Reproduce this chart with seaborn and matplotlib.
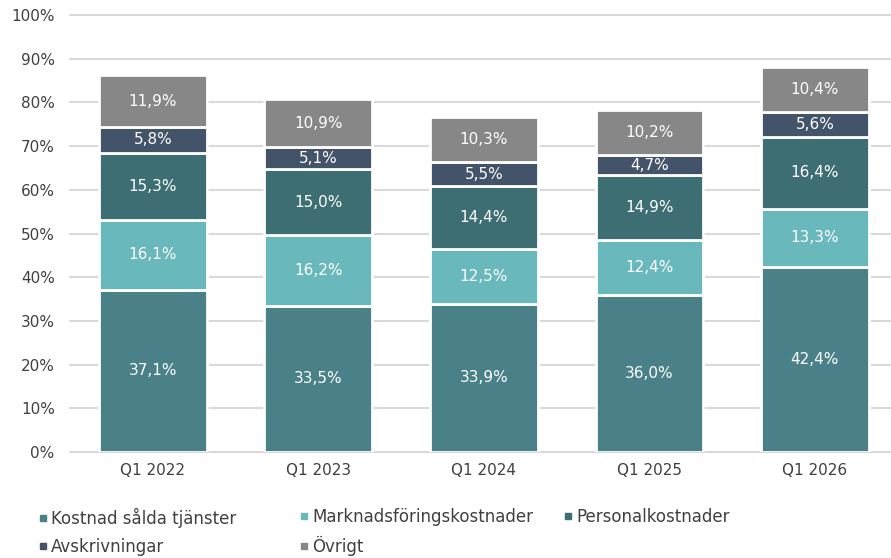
import matplotlib
matplotlib.use("Agg")
import matplotlib.pyplot as plt
from matplotlib.lines import Line2D
import seaborn as sns
import pandas as pd
import numpy as np

quarters = ["Q1 2022", "Q1 2023", "Q1 2024", "Q1 2025", "Q1 2026"]
series_names = ["Kostnad sålda tjänster", "Marknadsföringskostnader", "Personalkostnader",
                "Avskrivningar", "Övrigt"]
kostnad = [37.1, 33.5, 33.9, 36.0, 42.4]
marknad = [16.1, 16.2, 12.5, 12.4, 13.3]
personal = [15.3, 15.0, 14.4, 14.9, 16.4]
avskriv = [5.8, 5.1, 5.5, 4.7, 5.6]
ovrigt = [11.9, 10.9, 10.3, 10.2, 10.4]
yticks = [0, 10, 20, 30, 40, 50, 60, 70, 80, 90, 100]

colors = ["#4A8189", "#69B8BC", "#3D6E73", "#435369", "#878787"]

sns.set_style("white")
plt.rcParams["font.family"] = ["DejaVu Sans"]

df = pd.DataFrame({"quarter": quarters, series_names[0]: kostnad, series_names[1]: marknad,
                   series_names[2]: personal, series_names[3]: avskriv, series_names[4]: ovrigt})

fig = plt.figure(figsize=(8.91, 5.58), dpi=100)
ax = fig.add_axes([70 / 891, 106 / 558, 1 - 70 / 891, (452 - 15) / 558])

bottom = np.zeros(len(quarters))
for name, col in zip(series_names, colors):
    sns.barplot(data=df, x="quarter", y=name, color=col, saturation=1, bottom=bottom,
                width=0.65, edgecolor="white", linewidth=2, ax=ax, zorder=3)
    vals = df[name].to_numpy()
    for i, v in enumerate(vals):
        ax.text(i, bottom[i] + v / 2, f"{v:.1f}%".replace(".", ","), ha="center", va="center",
                color="white", fontsize=11, zorder=4)
    bottom = bottom + vals

ax.set_xlim(-0.5, 4.46)
ax.set_ylim(0, 100)
ax.set_yticks(yticks)
ax.set_yticklabels([f"{t}%" for t in yticks])
ax.yaxis.grid(True, color="#D9D9D9", linewidth=1.5, zorder=0)
for gl in ax.get_ygridlines():
    gl.set_clip_on(False)
ax.set_axisbelow(True)
for s in ax.spines.values():
    s.set_visible(False)
ax.tick_params(axis="both", length=0, labelsize=11, colors="#404040")
ax.tick_params(axis="x", pad=8)
ax.tick_params(axis="y", pad=11)
ax.set_xlabel("")
ax.set_ylabel("")

# legend in three columns as in the source
cols = [[0, 3], [1, 4], [2]]
xpos = [36 / 891, 297 / 891, 561 / 891]
for xs, idx in zip(xpos, cols):
    handles = [Line2D([], [], marker="s", linestyle="", color=colors[k], markersize=5)
               for k in idx]
    fig.legend(handles, [series_names[k] for k in idx], loc="upper left",
               bbox_to_anchor=(xs, 1 - 508 / 558), frameon=False, fontsize=12,
               handletextpad=0.1, handlelength=0.8, labelspacing=0.6,
               borderaxespad=0, borderpad=0, labelcolor="#404040")

fig.savefig("out.png", dpi=100)
